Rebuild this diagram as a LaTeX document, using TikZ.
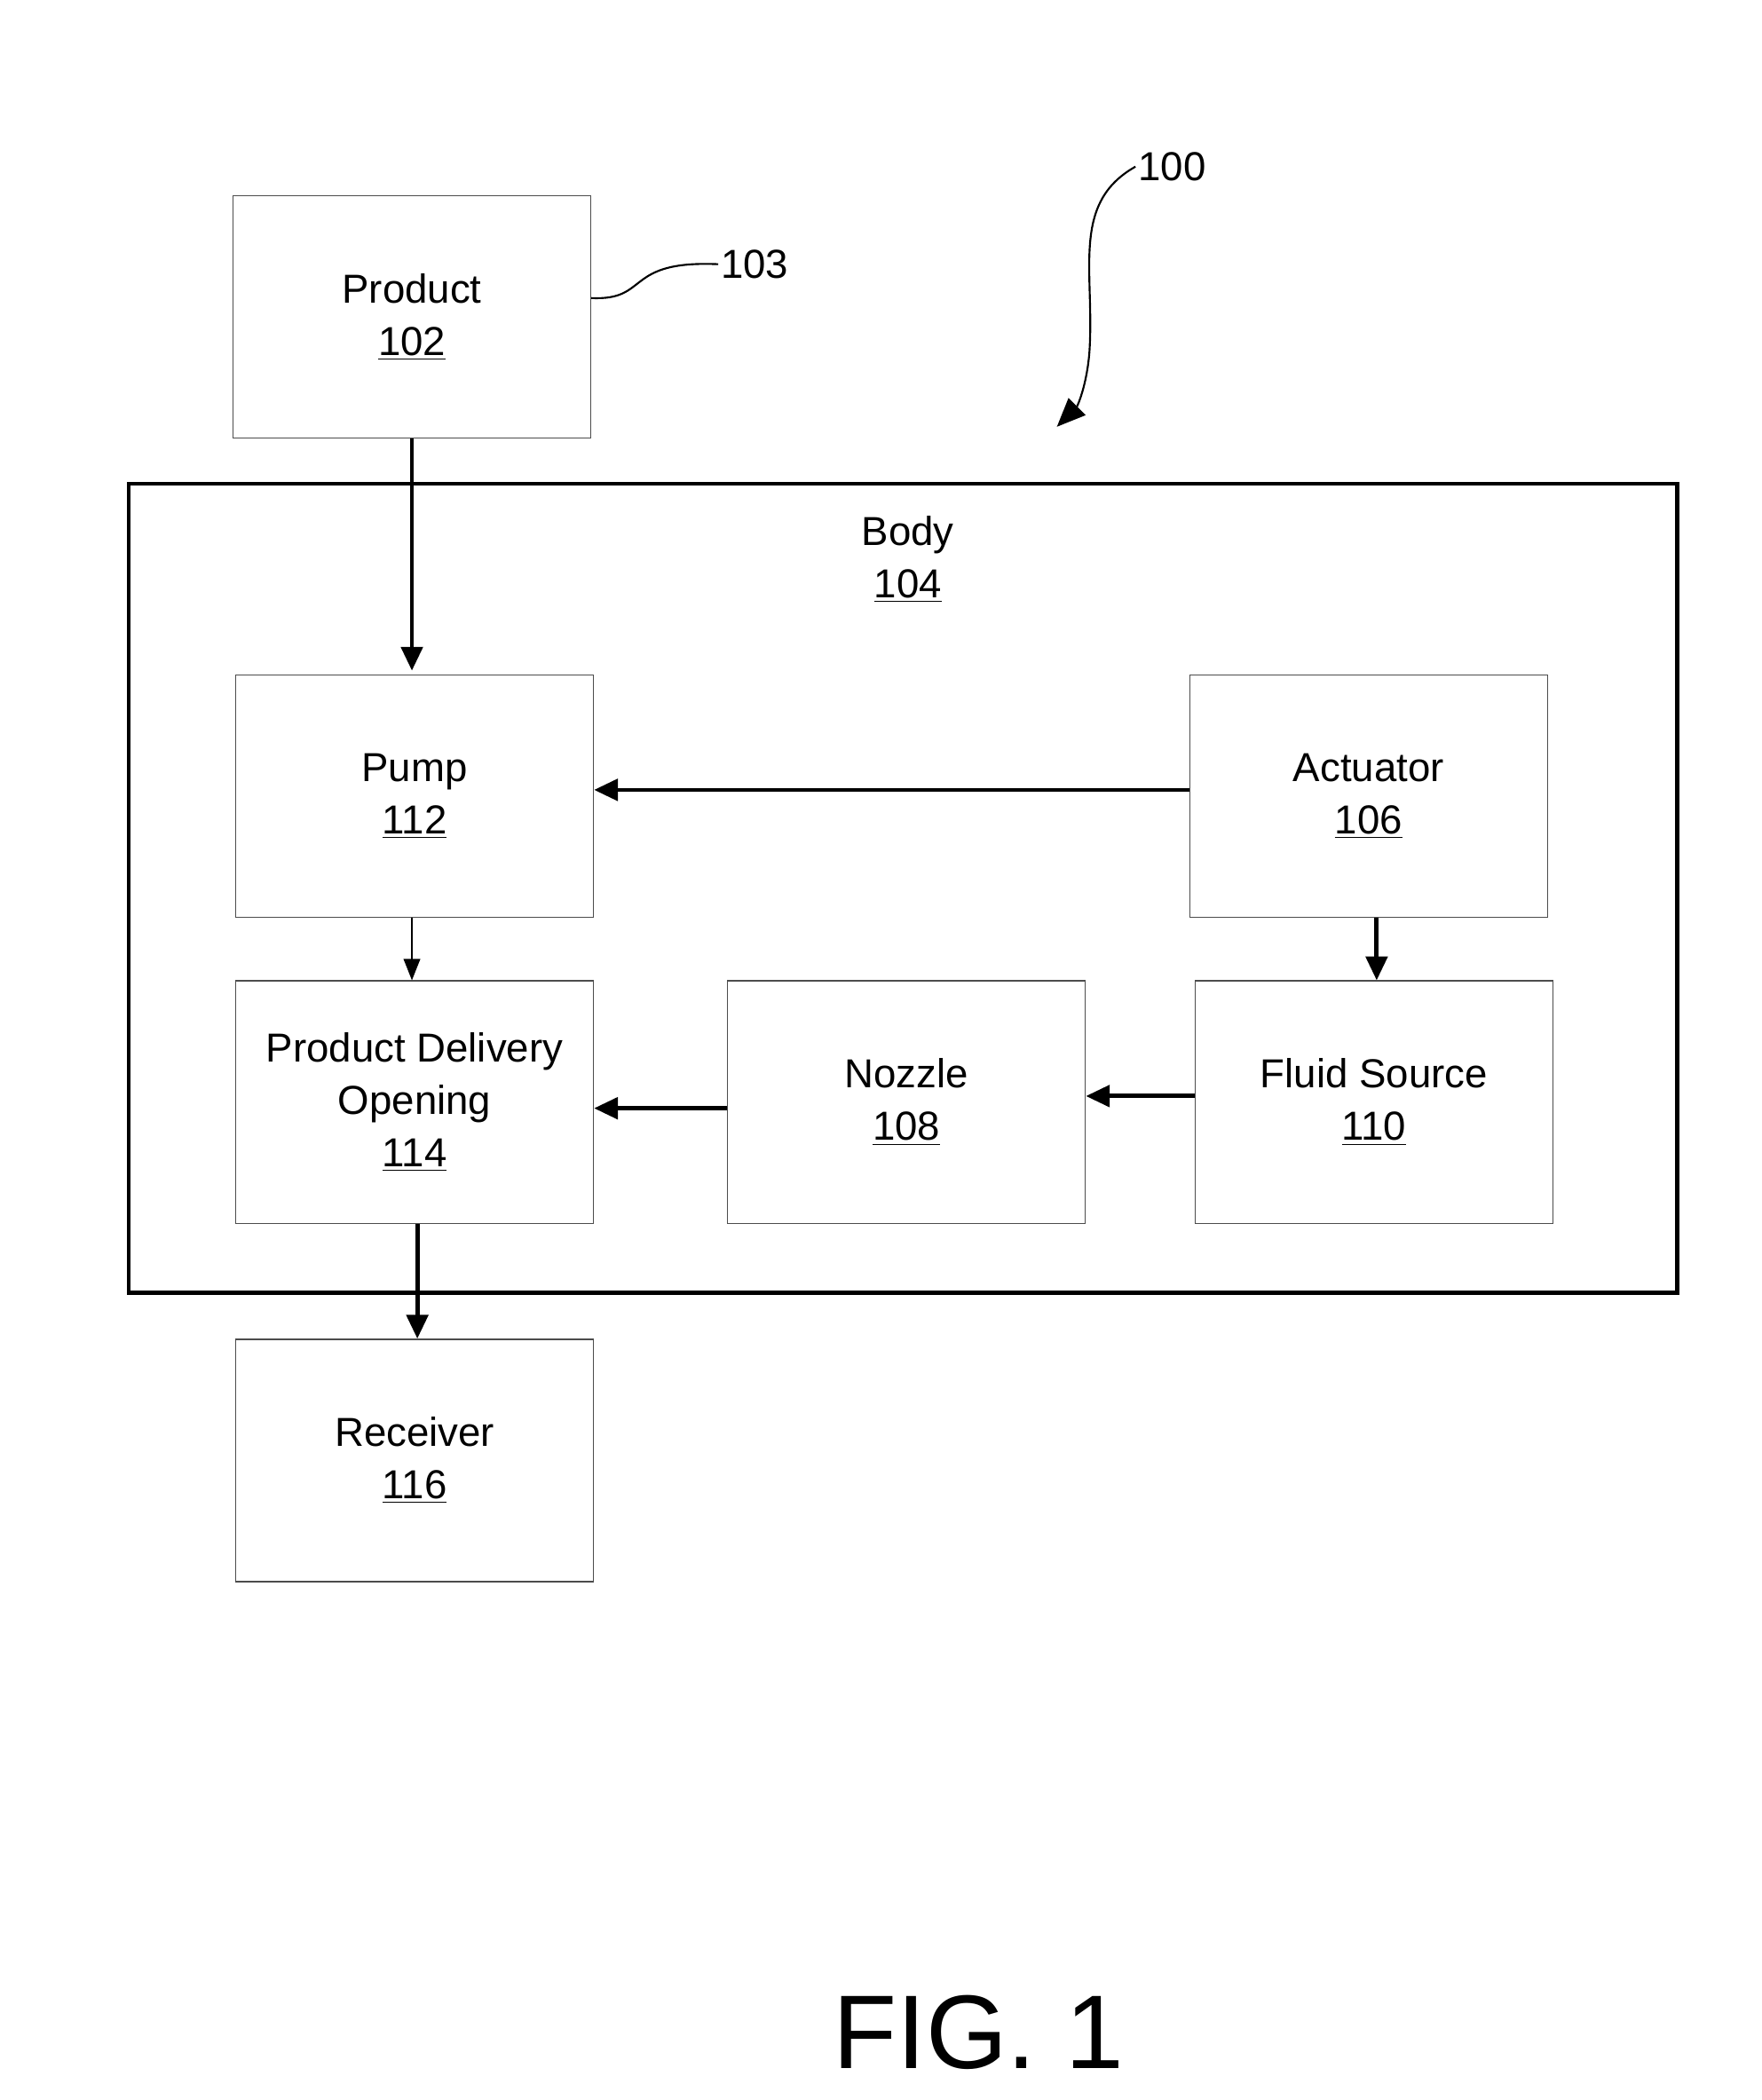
\documentclass[tikz,border=0pt]{standalone}
\usepackage{fontspec}
\setmainfont{Liberation Sans}
\usetikzlibrary{arrows.meta}
\begin{document}
\begin{tikzpicture}[x=0.02cm,y=-0.02cm,
  blk/.style={draw=black!70,line width=0.5pt,minimum width=264*0.02cm,minimum height=179*0.02cm,align=center,font=\fontsize{17}{22}\selectfont,inner sep=0pt},
  arr/.style={line width=1.8pt,-{Triangle[length=10pt,width=9pt]}},
  thin/.style={line width=0.5pt,-{Triangle[length=9pt,width=7pt]}},
  lbl/.style={font=\fontsize{17}{22}\selectfont}]
\useasboundingbox (0,0) rectangle (1300,1550);
\node[draw,line width=1.8pt,minimum width=1143*0.02cm,minimum height=597*0.02cm] (body) at (666.5,655.5) {};
\node[lbl,align=center] (bodyl) at (670,413) {Body\\\underline{104}};
\node[blk] (prod) at (304,234) {Product\\\underline{102}};
\node[blk] (pump) at (306,587.5) {Pump\\\underline{112}};
\node[blk] (act) at (1010,587.5) {Actuator\\\underline{106}};
\node[blk] (pdo) at (306,813.5) {Product Delivery\\Opening\\\underline{114}};
\node[blk] (noz) at (669,813.5) {Nozzle\\\underline{108}};
\node[blk] (fluid) at (1014,813.5) {Fluid Source\\\underline{110}};
\node[blk] (rec) at (306,1078) {Receiver\\\underline{116}};
\node[font=\fontsize{44}{50}\selectfont] (fig) at (722,1500) {FIG. 1};
\draw[arr] (prod.south -| 304,0) -- (304,495);
\draw[arr] (act.west |- 0,583) -- (pump.east |- 0,583);
\draw[thin] (pump.south -| 304,0) -- (pdo.north -| 304,0);
\draw[arr] (act.south -| 1016,0) -- (fluid.north -| 1016,0);
\draw[arr] (noz.west |- 0,818) -- (pdo.east |- 0,818);
\draw[arr] (fluid.west |- 0,809) -- (noz.east |- 0,809);
\draw[arr] (pdo.south -| 308,0) -- (rec.north -| 308,0);
\node[lbl,anchor=west,inner sep=1pt] (l103) at (530,195) {103};
\draw[line width=0.8pt] (prod.east |- 0,220) .. controls (480,222) and (460,192) .. (l103.west);
\node[lbl,anchor=west,inner sep=1pt] (l100) at (838,123) {100};
\coordinate (t100) at (780,315);
\draw[line width=0.8pt,-{Triangle[length=12pt,width=10pt]}] (l100.west) .. controls (790,150) and (808,200) .. (804,260) .. controls (802,285) and (795,300) .. (t100);
\end{tikzpicture}
\end{document}
